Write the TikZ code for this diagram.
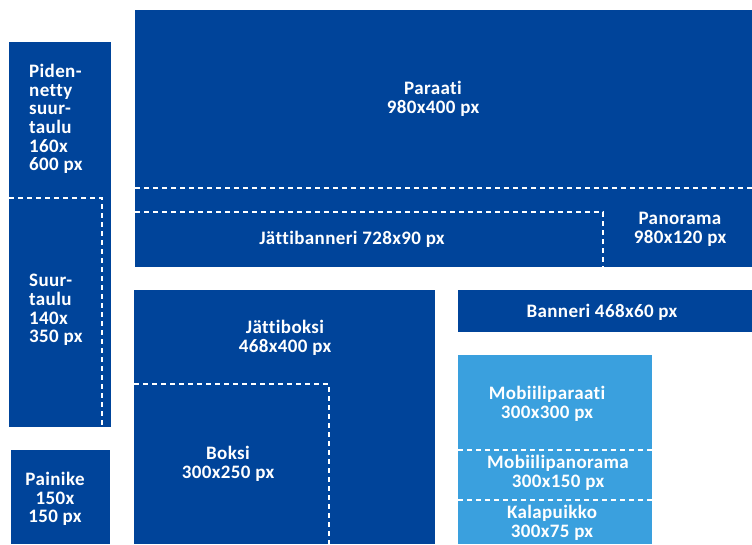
\documentclass[tikz,border=0pt]{standalone}
\usepackage{fontspec}
\setmainfont{Carlito}[Ligatures=NoCommon, LetterSpace=2]

\begin{document}
\begin{tikzpicture}[x=1pt, y=-1pt]
    % Define colours
    \definecolor{darkBlue}{HTML}{00449A}
    \definecolor{lightBlue}{HTML}{3AA0DE}

    % Define styles
    \tikzset{
        adLabel/.style={text=white, font=\bfseries\fontsize{19}{18.7}\selectfont, align=center, inner sep=0pt},
        adLabelLeft/.style={adLabel, align=left, anchor=west},
        cutLine/.style={white, line width=1.1pt, dash pattern=on 5pt off 4pt}
    }

    % Fix the page size
    \useasboundingbox (0,0) rectangle (752,544);

    % Draw the ad areas
    \fill[darkBlue] (9,42) rectangle (111,427);
    \fill[darkBlue] (11,450) rectangle (110,544);
    \fill[darkBlue] (135,10) rectangle (752,267);
    \fill[darkBlue] (134,290) rectangle (435,544);
    \fill[darkBlue] (458,290) rectangle (752,332);
    \fill[lightBlue] (458,355) rectangle (652,544);

    % Draw the dashed cut lines
    \draw[cutLine] (9,198) -- (102,198) -- (102,427);
    \draw[cutLine] (135,188) -- (752,188);
    \draw[cutLine] (135,212) -- (603,212) -- (603,267);
    \draw[cutLine] (134,384) -- (329,384) -- (329,544);
    \draw[cutLine] (458,450) -- (652,450);
    \draw[cutLine] (458,500) -- (652,500);

    % Label the ad areas
    \node[adLabelLeft] (pidennetty) at (29,119) {Piden-\\netty\\suur-\\taulu\\160x\\600 px};
    \node[adLabelLeft] (suurtaulu) at (29,310) {Suur-\\taulu\\140x\\350 px};
    \node[adLabel] (painike) at (55,499) {Painike\\150x\\150 px};
    \node[adLabel] (paraati) at (433,99) {Paraati\\980x400 px};
    \node[adLabel] (jattibanneri) at (352,239) {Jättibanneri 728x90 px};
    \node[adLabel] (panorama) at (680,229) {Panorama\\980x120 px};
    \node[adLabel] (jattiboksi) at (285,338) {Jättiboksi\\468x400 px};
    \node[adLabel] (boksi) at (228,464) {Boksi\\300x250 px};
    \node[adLabel] (banneri) at (602,312) {Banneri 468x60 px};
    \node[adLabel] (mobiiliparaati) at (547,404) {Mobiiliparaati\\300x300 px};
    \node[adLabel] (mobiilipanorama) at (558,473) {Mobiilipanorama\\300x150 px};
    \node[adLabel] (kalapuikko) at (552,523) {Kalapuikko\\300x75 px};

\end{tikzpicture}
\end{document}
